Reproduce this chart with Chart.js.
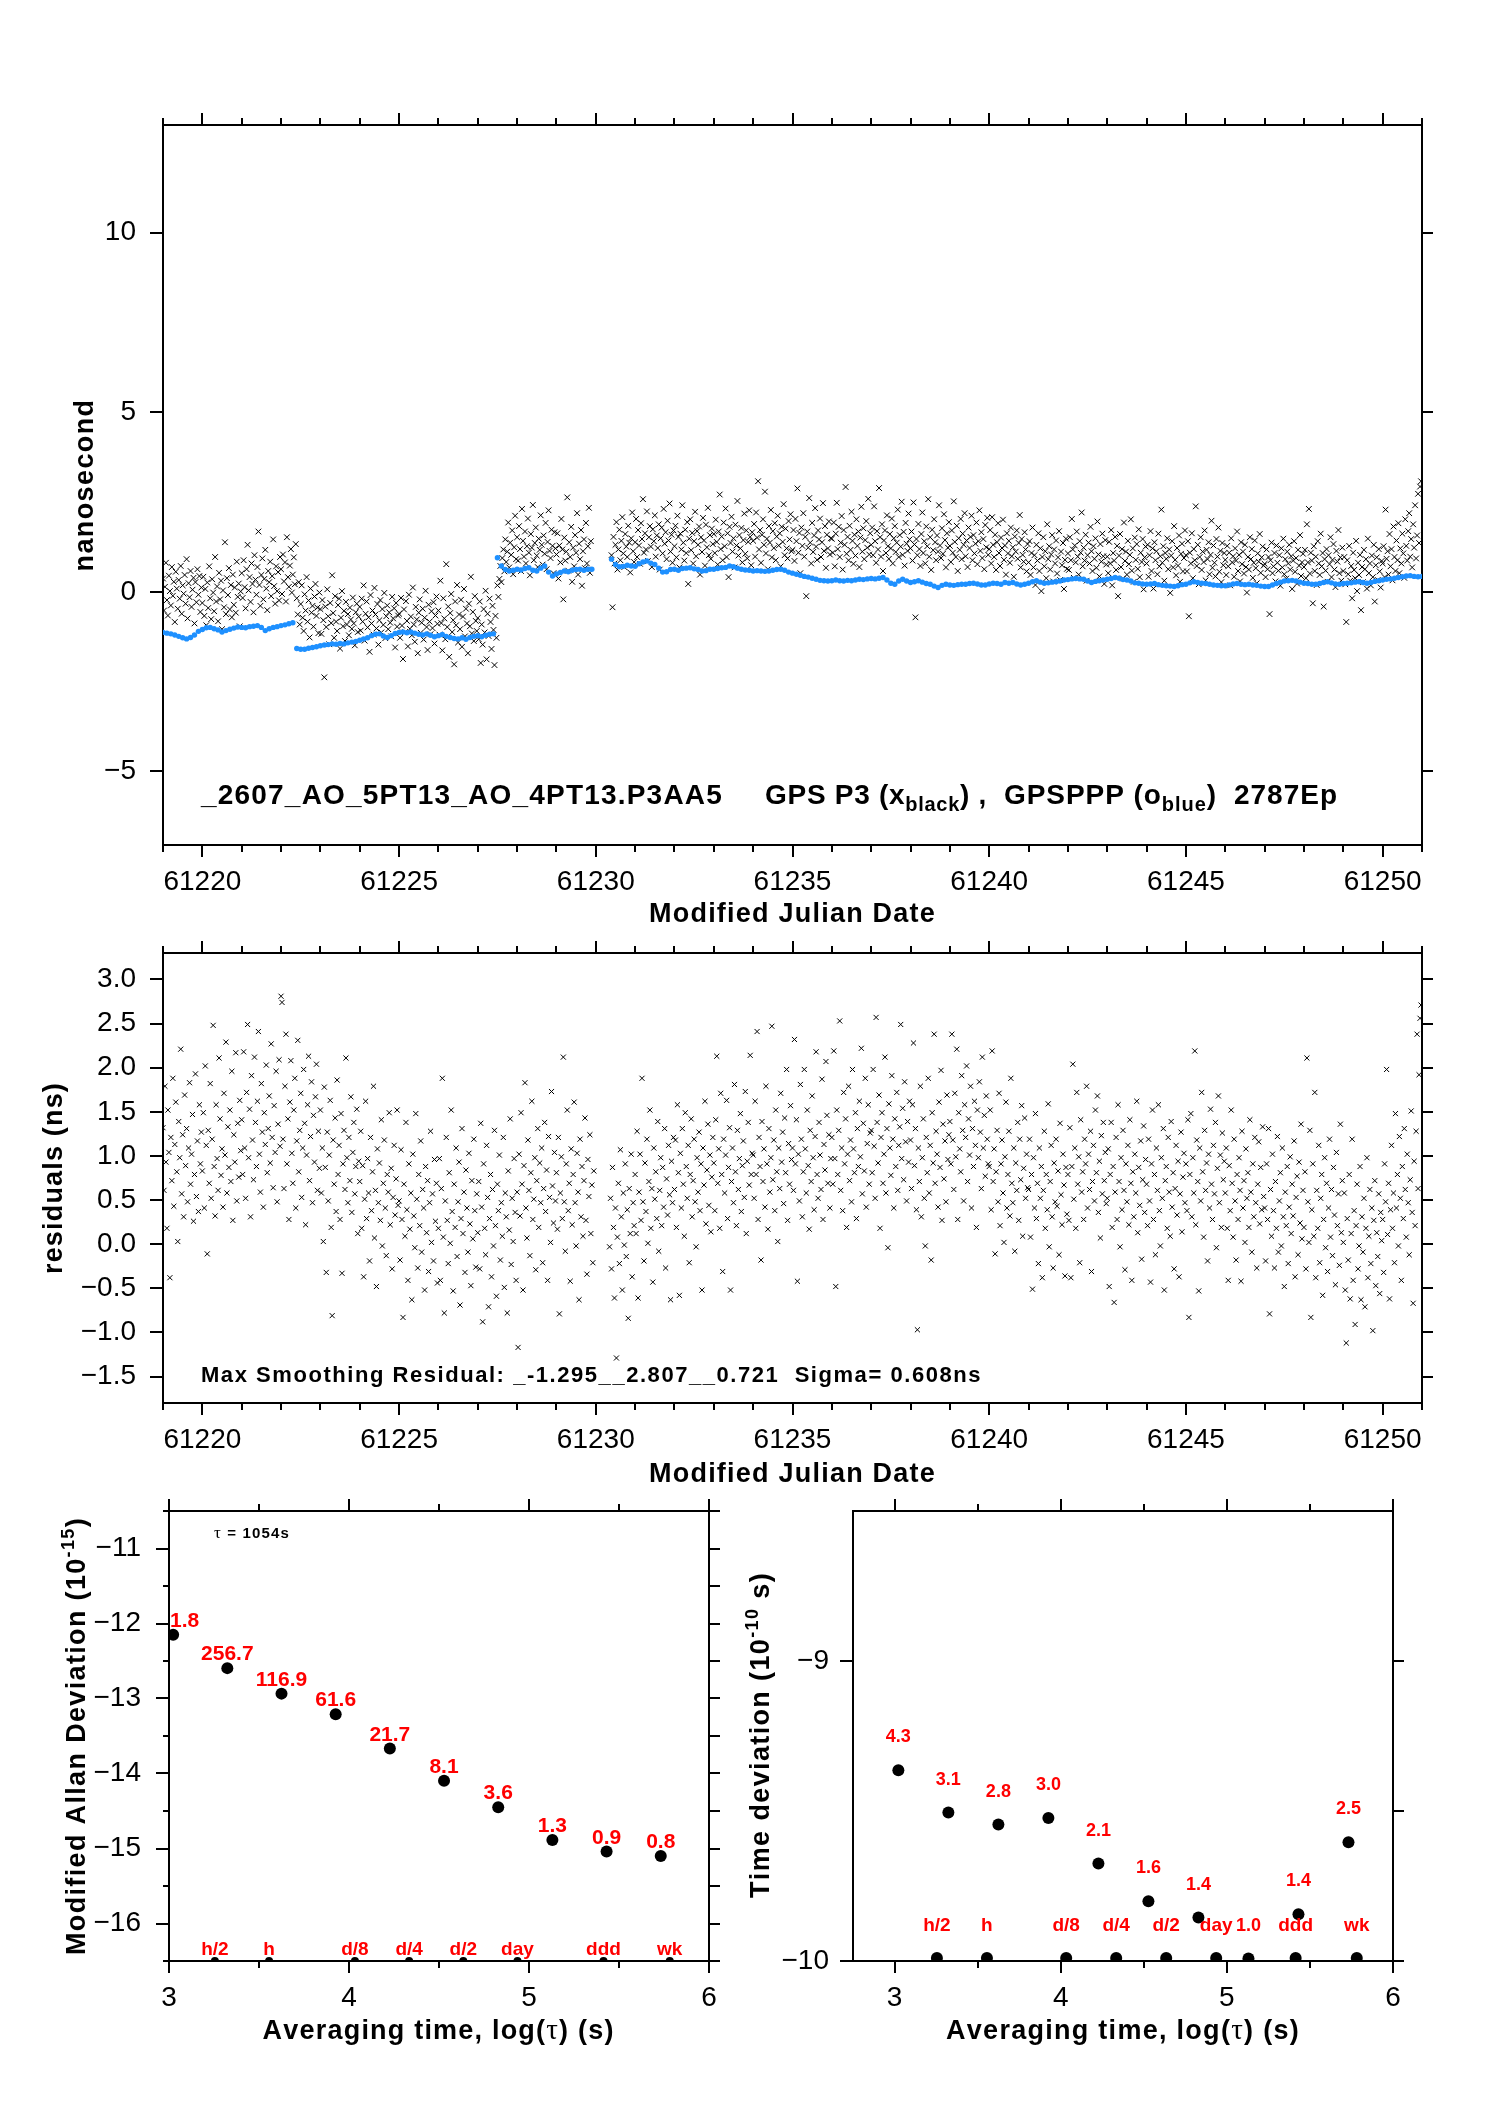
<!DOCTYPE html>
<html><head><meta charset="utf-8">
<script src="https://cdn.jsdelivr.net/npm/chart.js@4"></script>
<style>
html,body{margin:0;padding:0;background:#fff;}
body{width:1488px;height:2105px;position:relative;overflow:hidden;}
canvas{position:absolute;}
</style></head><body>
<canvas id="c1"></canvas><canvas id="c2"></canvas><canvas id="c3"></canvas><canvas id="c4"></canvas>
<script>
// ---------------- DATA ----------------
const DAY0 = 61219;               // MJD of the first row; each row = one day of samples
// GPS P3 clock differences (ns), one row per day (black x)
const GPS_P3 = [
[0.37,-0.52,0.14,0.81,-0.23,-0.66,0.45,0.02,-0.38,0.69,-0.11,0.28,-0.84,0.56,0.09,-0.47,0.33,-0.19,0.72,-0.61,0.18,-0.05,0.47,-0.33,0.91,-0.74,0.24,-0.15,0.58,-0.42,0.06,0.39,-0.88,0.27,-0.29,0.63,-0.08,0.44,-0.56,0.12],
[-0.31,0.42,-0.67,0.08,-0.93,0.26,-0.45,0.71,-0.18,-0.76,0.35,-0.02,-0.54,0.97,-0.27,0.15,-0.82,0.53,-0.21,0.31,-1.04,0.04,-0.43,1.38,-0.62,0.38,-0.09,0.66,-0.49,0.19,-0.71,0.48,-0.36,0.12,-0.58,0.84,-0.14,0.23,-0.96,0.01],
[0.52,-0.17,0.88,0.13,-0.46,0.63,1.31,0.04,0.41,-0.28,0.79,0.22,-0.57,1.02,0.34,-0.08,0.69,1.68,0.19,-0.39,0.47,0.93,-0.21,0.36,1.17,0.09,-0.51,0.58,0.27,0.84,-0.12,0.44,1.46,0.16,-0.33,0.71,0.02,0.55,-0.24,0.97],
[0.63,-0.06,1.04,0.29,0.82,-0.27,1.52,0.41,0.14,0.73,1.19,-0.02,0.48,0.96,0.21,1.33,-0.18,-0.63,0.27,-0.91,-0.34,0.18,-0.72,-1.09,-0.07,-0.52,0.41,-0.83,-0.24,-1.27,0.09,-0.58,-0.39,-0.97,-0.13,0.22,-0.67,-0.44,-1.15,-0.02],
[-0.48,-1.17,-0.23,-0.79,-2.38,-0.41,-0.98,0.07,-0.68,-1.46,-0.31,-0.87,0.46,-0.59,-1.28,-0.12,-0.83,-1.09,-0.37,-0.19,-1.58,-0.72,0.02,-0.96,-0.53,-1.37,-0.28,-0.91,-0.62,-1.21,-0.44,-0.77,-1.03,-0.16,-0.88,-1.49,-0.57,-0.33,-1.12,-0.69],
[-0.42,-1.08,-0.19,-0.83,0.18,-1.36,-0.61,-0.27,-0.99,-0.71,-1.67,-0.09,-0.88,-0.52,-1.19,0.11,-0.63,-1.02,-0.34,-1.47,-0.79,-0.23,-1.13,-0.48,-0.92,-0.03,-1.29,-0.68,-0.38,-1.04,-0.57,-0.86,-1.24,-0.14,-0.74,-0.46,-1.55,-0.31,-0.97,-0.66],
[-0.61,-1.28,-0.17,-0.94,-1.87,-0.49,-1.12,-0.26,-0.81,-1.52,-0.08,-1.03,-0.69,-1.21,0.12,-0.91,-1.39,-0.42,-0.77,-1.71,-0.58,-0.21,-1.14,-0.86,-0.47,-1.33,-0.72,0.03,-0.98,-1.62,-0.36,-0.83,-1.18,-0.54,-1.01,-0.29,-1.44,-0.66,-0.13,-0.89],
[-0.52,-1.19,0.31,-0.87,-1.63,-0.18,-0.74,-1.32,0.77,-0.98,-0.41,-1.81,-0.59,-0.06,-1.12,-0.79,-2.02,-0.27,-0.93,0.19,-1.41,-0.63,-1.04,-0.22,-1.53,-0.69,0.08,-1.24,-0.47,-0.88,-1.71,-0.33,-0.96,0.42,-1.16,-0.56,-1.37,-0.12,-0.81,-1.09],
[-0.73,-1.32,-0.27,-1.98,-0.91,-1.47,-0.48,-1.13,0.03,-1.88,-0.61,-1.23,-0.19,-0.84,-1.59,-0.39,-1.06,-2.04,-0.67,-1.28,0.18,-0.14,0.36,0.72,0.27,0.94,1.18,0.57,1.46,0.83,1.12,1.93,0.68,1.37,1.03,1.71,0.49,1.24,2.12,0.91],
[1.52,0.87,1.83,1.19,0.58,2.31,1.42,0.98,1.68,0.79,1.27,2.04,1.09,0.46,1.61,1.23,2.42,0.88,1.36,1.79,1.01,0.69,1.48,1.17,2.13,1.31,0.76,1.57,1.06,1.92,0.63,1.39,2.27,1.14,0.94,1.73,1.28,0.52,1.66,1.21],
[1.04,1.63,0.37,1.29,0.82,2.03,1.18,-0.21,1.51,0.87,1.12,2.63,0.59,1.38,0.97,1.81,0.28,1.23,0.71,1.58,1.09,2.19,0.48,1.34,0.91,1.72,0.17,1.13,1.46,0.66,1.92,0.79,1.27,2.34,0.53,1.41,null,null,null,null],
[null,null,null,null,null,null,null,null,null,null,null,null,null,null,null,null,1.02,-0.43,1.53,0.79,1.31,1.94,0.62,1.18,1.73,0.88,1.42,2.08,1.07,0.69,1.61,1.26,0.97,1.84,1.37,0.54,1.49,2.21,1.13,0.83],
[1.38,2.03,0.97,1.72,1.29,0.78,1.91,1.47,2.58,1.09,1.63,1.18,2.24,0.86,1.52,1.83,1.26,0.69,1.74,1.41,2.13,0.98,1.57,1.22,1.88,0.62,1.49,1.79,1.07,2.31,1.34,1.66,0.91,1.98,1.43,2.46,1.12,1.59,0.81,1.71],
[1.27,1.84,0.96,2.12,1.53,0.68,1.62,1.18,2.41,1.37,0.87,1.73,1.08,1.94,0.22,1.48,2.02,1.16,1.64,0.79,1.41,2.23,0.99,1.69,1.31,1.82,0.48,1.52,1.11,2.06,1.43,0.73,1.87,1.24,2.34,1.02,1.58,0.92,1.76,1.33],
[1.61,1.08,2.01,1.39,0.76,1.68,2.71,1.19,1.54,0.88,1.93,1.27,2.32,0.97,1.63,0.41,1.81,1.36,2.09,1.12,1.49,0.68,1.87,1.29,2.53,1.01,1.58,1.21,1.78,0.82,1.44,2.18,1.06,1.71,0.93,1.39,2.27,1.53,0.74,1.66],
[1.42,1.89,0.98,2.21,1.51,3.08,1.18,1.72,0.81,1.59,2.02,1.31,2.79,1.07,1.48,0.63,1.83,1.37,2.28,0.96,1.69,1.22,1.91,0.88,1.54,2.12,1.29,1.63,0.71,1.81,1.39,2.44,1.02,1.76,1.21,0.93,1.97,1.46,2.16,1.13],
[1.17,1.72,0.86,2.03,1.41,2.88,1.09,1.64,0.52,1.79,1.28,2.19,0.98,1.53,-0.12,1.68,1.23,2.61,1.37,0.79,1.92,1.11,1.57,2.33,1.26,0.89,1.71,1.46,2.04,0.97,1.38,2.47,1.14,1.83,0.67,1.59,1.21,1.96,1.04,1.49],
[1.48,1.09,1.93,0.71,1.62,2.48,1.19,1.81,0.97,1.37,2.11,0.62,1.72,1.31,2.92,1.06,1.53,0.88,1.84,1.17,2.23,1.42,0.78,1.59,1.01,2.02,1.28,1.68,0.69,1.51,2.37,1.12,1.77,0.91,1.44,1.97,1.23,2.59,1.04,1.63],
[1.31,1.79,1.02,2.38,1.41,0.81,1.69,1.18,2.89,1.52,0.98,1.88,0.58,1.43,1.71,1.08,2.13,1.27,0.92,1.61,1.21,2.04,0.79,1.49,1.83,1.11,1.37,2.29,0.97,1.58,1.26,2.51,1.03,1.67,0.73,1.92,1.34,1.14,2.18,1.46],
[1.21,1.68,0.87,2.49,1.32,-0.71,1.47,1.02,1.89,1.19,0.72,1.61,2.21,1.08,1.41,0.79,1.82,1.27,2.58,0.98,1.52,0.61,1.73,1.16,2.02,1.38,0.88,1.57,1.12,2.41,1.29,0.94,1.77,1.06,2.16,1.44,0.68,1.63,1.23,1.94],
[1.28,0.83,1.71,1.09,2.52,1.39,0.97,1.84,0.58,1.49,1.17,2.03,0.91,1.62,1.31,2.19,0.99,1.43,0.69,1.79,1.22,1.53,2.12,0.88,1.58,1.07,1.34,1.93,0.77,1.41,2.27,1.14,1.66,0.94,1.47,0.63,1.86,1.24,2.06,1.03],
[1.19,1.72,0.79,2.08,1.31,0.97,1.59,0.61,1.38,1.91,1.08,0.72,1.51,1.22,2.01,0.89,1.29,0.48,1.63,1.07,1.42,0.81,1.79,0.99,1.24,0.42,1.54,1.12,1.71,0.92,1.36,2.14,0.68,1.47,1.03,0.84,1.66,1.18,0.57,1.33],
[0.82,1.41,0.47,1.08,1.79,0.68,1.02,0.19,1.31,0.87,1.63,0.58,1.21,0.02,0.97,1.52,0.71,1.13,0.38,1.88,0.91,1.27,0.62,1.04,1.58,0.29,1.18,0.79,1.43,0.51,0.96,1.69,0.33,1.12,0.74,1.36,0.08,0.89,1.48,0.64],
[1.07,0.61,1.52,0.88,2.03,1.18,0.39,1.29,0.82,1.68,0.98,0.48,1.41,1.09,2.21,0.71,1.23,0.87,1.59,0.31,1.02,1.37,0.79,1.81,1.13,0.58,1.27,0.92,1.49,0.67,1.96,1.04,0.43,1.33,0.84,1.62,0.99,0.22,1.44,0.76],
[0.98,0.52,1.39,0.79,1.72,0.18,1.08,0.87,1.53,0.61,1.28,-0.12,1.01,1.61,0.69,1.19,0.37,1.93,0.86,1.12,0.48,1.42,0.77,1.03,2.02,0.59,1.21,0.28,1.51,0.89,1.33,0.64,1.74,0.41,1.09,0.83,1.47,0.07,0.96,1.26],
[0.79,1.31,0.42,1.02,1.69,0.58,1.21,0.09,1.38,0.88,1.13,0.49,1.62,0.71,0.99,2.29,0.81,1.27,0.31,1.08,0.92,1.49,0.63,1.18,-0.03,1.01,1.41,0.68,1.83,0.89,0.46,1.22,0.73,1.57,0.28,1.06,1.34,0.57,0.94,1.71],
[1.02,0.57,1.41,-0.68,1.09,0.79,1.63,0.38,1.19,0.88,2.38,0.72,1.31,0.21,0.97,1.52,0.61,1.12,0.83,1.71,0.32,1.17,0.91,1.38,0.49,1.03,1.98,0.67,1.29,0.81,0.43,1.47,0.98,1.79,0.56,1.14,0.27,1.36,0.74,1.08],
[0.89,0.47,1.28,0.71,1.09,0.18,1.49,0.82,0.99,0.42,1.21,0.87,1.68,0.58,1.03,0.29,1.38,0.77,1.12,0.51,1.31,0.69,-0.02,0.97,0.62,1.52,0.91,1.19,0.39,0.81,1.43,0.66,0.24,1.07,0.84,1.61,0.53,0.96,1.26,0.73],
[0.78,0.41,1.18,0.63,0.97,-0.62,0.88,1.37,0.52,0.71,1.08,0.29,1.29,0.81,0.59,1.02,0.17,1.21,0.68,1.48,0.49,0.91,0.37,1.12,0.79,1.31,0.62,0.99,0.08,0.87,1.41,0.56,0.94,0.23,1.17,0.73,1.58,0.44,0.82,1.06],
[0.69,1.17,0.38,1.88,0.82,2.31,0.51,1.09,0.87,-0.32,1.27,0.58,0.98,0.19,1.41,0.79,0.47,1.62,0.71,1.08,-0.41,0.91,0.59,1.19,0.28,1.02,0.77,1.52,0.41,0.89,1.33,0.62,0.13,1.14,0.84,1.72,0.52,0.96,0.31,1.23],
[0.58,0.97,0.21,-0.84,0.88,0.49,1.28,0.31,0.72,-0.18,1.09,0.61,0.38,1.42,0.02,0.81,0.47,1.03,-0.51,0.69,0.27,1.17,0.63,0.91,0.09,1.48,0.52,0.79,0.18,1.01,0.41,1.31,-0.27,0.74,0.96,0.33,1.19,0.57,0.12,0.86],
[0.79,1.27,0.41,2.29,0.92,1.13,0.48,1.61,0.71,1.19,0.32,1.82,0.97,0.58,1.43,0.88,1.91,0.52,1.21,0.79,1.62,1.07,0.39,2.02,1.28,0.87,1.69,2.19,0.98,1.47,0.68,1.88,1.23,2.41,0.93,1.57,2.73,1.36,2.93,3.08]
];
// GPS PPP clock differences (ns), blue, sampled every PPP_STEP days from PPP_T0
const PPP_T0 = 61219, PPP_STEP = 0.1;
const GPS_PPP = [
-1.13,-1.15,-1.17,-1.20,-1.24,-1.28,-1.31,-1.27,-1.20,-1.10,-1.05,-1.00,-0.99,-1.03,-1.06,-1.12,-1.08,-1.04,-1.01,-0.98,
-0.99,-1.00,-0.97,-0.96,-0.94,-0.99,-1.08,-1.03,-0.99,-0.97,-0.94,-0.92,-0.89,-0.86,
-1.58,-1.60,-1.60,-1.57,-1.55,-1.53,-1.50,-1.48,-1.47,-1.45,-1.46,-1.44,-1.45,-1.42,-1.40,-1.38,
-1.35,-1.31,-1.28,-1.22,-1.18,-1.17,-1.23,-1.27,-1.22,-1.16,-1.13,-1.12,-1.14,-1.12,-1.15,-1.18,-1.20,-1.17,-1.21,-1.25,
-1.22,-1.19,-1.24,-1.27,-1.30,-1.31,-1.28,-1.32,-1.27,-1.24,-1.22,-1.25,-1.21,-1.18,-1.17,
0.95,0.72,0.62,0.58,0.60,0.63,0.61,0.65,0.67,0.60,0.58,0.66,0.72,0.55,0.44,0.50,0.54,0.58,0.56,0.60,0.62,0.63,0.60,0.63,0.63,
null,null,null,null,
0.91,0.76,0.70,0.71,0.74,0.72,
0.71,0.78,0.83,0.86,0.80,0.76,0.66,0.55,0.56,0.62,
0.63,0.60,0.65,0.66,0.67,0.64,0.62,0.58,0.59,0.63,
0.63,0.65,0.67,0.68,0.72,0.70,0.66,0.63,0.61,0.60,
0.58,0.59,0.58,0.57,0.58,0.60,0.62,0.63,0.60,0.55,
0.52,0.49,0.46,0.43,0.41,0.38,0.35,0.32,0.31,0.30,
0.31,0.33,0.31,0.30,0.32,0.31,0.33,0.35,0.34,0.36,
0.37,0.36,0.38,0.40,0.33,0.24,0.21,0.30,0.35,0.30,
0.26,0.28,0.31,0.27,0.23,0.21,0.16,0.12,0.18,0.21,
0.19,0.18,0.20,0.21,0.21,0.23,0.24,0.22,0.19,0.19,
0.22,0.24,0.23,0.21,0.26,0.24,0.26,0.22,0.19,0.21,
0.24,0.28,0.31,0.27,0.24,0.25,0.27,0.28,0.30,0.33,
0.34,0.36,0.37,0.36,0.35,0.30,0.26,0.29,0.31,0.33,
0.35,0.37,0.40,0.38,0.34,0.33,0.30,0.25,0.24,0.22,
0.21,0.22,0.23,0.20,0.18,0.17,0.16,0.15,0.17,0.20,
0.21,0.25,0.28,0.26,0.24,0.23,0.21,0.19,0.18,0.17,
0.17,0.19,0.22,0.23,0.21,0.20,0.21,0.19,0.18,0.16,
0.15,0.15,0.19,0.23,0.27,0.30,0.31,0.32,0.30,0.27,
0.24,0.23,0.21,0.21,0.23,0.26,0.28,0.25,0.22,0.21,
0.23,0.24,0.25,0.27,0.28,0.26,0.24,0.26,0.29,0.31,
0.33,0.35,0.36,0.38,0.40,0.42,0.44,0.45,0.43,0.42,
0.43
];
// smoothing residuals (ns), one row per day
const RESID = [
[1.32,0.61,1.79,0.93,0.18,1.52,1.04,-0.38,1.21,0.72,1.88,0.43,1.13,1.61,0.82,0.03,1.39,0.98,2.21,0.57,1.24,0.31,1.69,0.89,1.31,0.48,1.09,1.83,0.68,1.02,1.47,0.26,0.79,1.93,0.54,1.17,0.37,1.58,0.91,1.27],
[0.83,1.49,0.41,2.02,1.12,-0.11,1.29,0.69,1.82,0.52,1.19,2.48,0.88,0.32,1.58,0.97,0.61,2.11,1.42,0.78,1.08,0.42,1.71,1.01,2.29,0.58,1.33,0.87,1.52,0.71,1.96,0.27,1.24,0.93,2.17,0.49,1.37,0.76,1.63,1.06],
[1.41,0.79,2.18,1.09,0.52,1.72,2.49,0.98,1.53,0.31,1.91,1.18,0.73,2.12,1.38,0.88,1.62,2.41,1.02,0.59,1.82,1.27,0.42,1.49,1.13,2.03,0.81,1.31,1.68,0.92,2.27,1.21,0.64,1.57,1.04,1.96,0.48,1.36,2.09,1.11],
[2.81,2.74,1.19,0.63,1.79,2.38,0.91,1.42,0.28,1.61,2.08,1.03,0.69,1.52,1.88,0.41,1.17,2.31,0.82,1.29,1.71,0.53,1.09,1.98,1.37,0.22,1.01,1.58,2.13,0.72,1.22,1.84,0.47,1.46,0.93,1.67,2.04,0.61,1.28,0.86],
[1.52,0.58,1.09,0.03,1.78,0.87,-0.32,1.27,0.49,1.01,1.63,0.19,-0.81,1.18,0.68,1.43,0.37,1.86,0.79,1.12,0.28,1.48,-0.33,0.91,1.29,0.62,2.11,0.98,0.47,1.21,0.72,1.67,0.36,1.04,1.38,0.57,0.88,1.53,0.12,0.94],
[0.71,1.28,0.18,0.89,-0.37,0.51,1.62,0.29,0.97,0.58,-0.19,1.21,0.38,0.82,1.79,0.07,0.61,-0.48,1.08,0.47,0.92,0.27,1.41,-0.02,0.69,1.18,0.41,-0.13,0.79,0.59,1.49,0.22,0.86,-0.28,0.53,1.12,0.33,0.74,1.52,0.44],
[0.49,-0.18,1.07,0.28,-0.83,0.68,0.09,1.38,0.39,-0.41,0.91,0.17,0.58,-0.63,1.02,0.32,-0.04,1.48,0.51,-0.27,0.79,0.21,1.17,-0.09,0.62,0.41,-0.52,0.88,0.13,0.72,-0.31,0.47,1.28,0.02,0.57,-0.19,0.96,0.26,0.69,-0.44],
[0.18,0.97,-0.41,0.63,1.88,0.08,-0.78,0.49,1.21,0.27,-0.22,0.81,0.01,1.52,0.37,-0.53,0.68,0.19,1.09,-0.14,0.48,0.93,-0.69,0.29,1.31,0.12,0.59,-0.32,0.84,0.41,-0.09,1.03,0.23,-0.47,0.72,0.06,1.19,0.38,-0.26,0.57],
[0.13,0.71,-0.28,1.37,0.42,-0.88,0.91,0.18,-0.12,1.12,0.53,-0.71,0.29,0.79,-0.37,0.62,-0.02,1.29,0.21,-0.59,0.68,0.38,1.01,-0.18,0.47,0.09,1.21,-0.49,0.58,0.31,-0.78,0.83,0.16,1.42,-0.23,0.52,0.03,0.97,0.36,-0.41],
[0.59,-1.17,1.02,0.32,1.49,0.68,-0.52,0.89,1.83,0.41,0.07,1.18,0.61,-0.13,0.81,1.62,0.28,0.51,0.98,-0.29,0.72,1.31,0.19,0.92,0.47,1.09,-0.21,0.63,1.38,0.37,0.84,-0.41,1.22,0.53,0.02,1.73,0.66,0.24,1.04,0.49],
[0.81,0.17,1.21,-0.79,0.58,0.99,0.29,2.12,0.48,-0.08,0.91,1.52,0.38,0.69,-0.42,1.08,0.22,0.79,1.61,0.47,-0.02,1.03,0.59,-0.63,1.19,0.31,0.88,0.09,0.72,1.43,0.27,-0.34,0.96,0.54,1.24,0.12,0.67,-0.21,0.83,null],
[null,null,null,null,null,null,null,null,null,null,null,null,null,null,-0.03,0.52,-0.28,0.87,0.19,-0.61,0.41,-1.29,0.08,0.69,-0.22,1.07,0.31,-0.52,0.58,-0.01,0.91,-0.14,0.39,-0.84,0.63,0.12,1.02,-0.37,0.47,0.21],
[0.79,0.12,1.28,-0.61,0.59,1.02,0.27,1.88,0.48,-0.19,0.92,0.37,1.19,0.01,0.71,1.52,0.18,0.63,-0.43,1.09,0.51,0.82,0.29,1.39,-0.08,0.61,0.98,0.21,0.87,0.42,1.31,-0.27,0.74,0.33,1.12,0.56,-0.63,0.94,0.47,1.21],
[0.62,1.18,0.19,1.58,0.81,-0.58,1.03,0.41,1.31,0.68,0.09,1.49,0.88,0.52,1.12,-0.21,0.79,1.42,0.31,0.72,1.19,0.48,-0.03,0.98,0.59,1.27,0.38,0.91,-0.52,1.09,0.67,1.62,0.23,0.84,1.36,0.44,1.01,0.14,0.76,1.21],
[0.92,0.38,1.41,2.13,0.69,1.08,0.18,1.71,0.79,-0.31,1.19,0.58,1.01,1.63,0.29,0.87,1.32,-0.52,0.71,1.09,0.47,1.81,0.82,0.21,1.29,0.62,0.97,1.48,0.37,0.89,1.17,0.53,1.73,0.12,0.94,1.38,0.67,2.14,0.79,1.03],
[1.01,0.52,1.62,0.79,2.41,0.28,1.21,0.88,-0.18,1.39,0.71,1.08,0.42,1.79,0.91,0.17,1.31,0.59,0.98,2.47,0.73,1.18,0.38,1.52,0.82,0.03,1.09,0.63,1.71,0.93,1.27,0.46,1.43,0.81,1.98,0.27,1.14,0.68,1.57,0.96],
[1.09,0.61,2.32,0.91,1.41,-0.42,1.02,0.49,1.81,1.19,0.31,0.82,1.98,1.08,0.58,1.52,0.89,0.17,1.29,0.71,1.68,0.98,0.39,1.22,2.18,0.79,0.52,1.38,1.01,0.62,1.87,0.28,1.13,0.84,2.07,1.46,0.69,1.24,0.41,0.97],
[1.21,0.68,2.19,0.97,-0.48,1.52,0.79,1.29,2.53,0.61,1.09,0.38,1.72,0.91,1.42,0.19,1.02,1.79,0.72,1.18,0.48,1.98,1.08,0.81,1.49,0.29,1.31,0.88,1.62,0.99,2.22,0.57,1.37,0.83,1.88,0.42,1.14,1.58,0.68,1.26],
[1.29,0.81,1.98,1.11,0.52,2.57,1.38,0.92,1.69,0.18,1.21,1.49,0.69,1.02,2.12,0.58,1.31,-0.04,1.59,1.09,0.78,1.91,1.19,0.41,1.42,0.88,1.72,0.61,1.12,1.33,2.49,0.97,1.54,0.73,1.84,1.16,0.49,1.39,0.93,1.62],
[1.18,0.63,1.58,2.28,0.89,1.31,0.39,-0.97,1.09,0.71,1.79,0.31,0.98,1.42,0.52,-0.02,1.21,0.81,1.88,0.58,1.12,-0.18,1.49,0.92,2.38,0.69,1.28,1.02,0.42,1.61,0.87,1.97,0.27,1.36,0.74,1.17,0.48,1.69,0.96,1.24],
[1.39,0.91,2.38,1.18,0.62,1.71,0.99,2.21,0.28,1.49,1.08,0.82,1.91,1.29,0.49,1.58,1.21,2.02,0.71,1.42,1.01,1.79,0.41,1.31,0.88,1.62,1.12,0.19,1.52,0.98,1.84,1.27,0.63,2.12,1.09,1.46,0.77,1.68,1.19,0.91],
[0.88,1.52,0.39,2.19,0.71,1.08,-0.11,0.82,1.29,0.48,1.71,0.21,0.91,1.18,0.58,0.02,0.99,1.61,0.41,0.79,1.28,0.32,1.88,0.69,0.47,1.09,-0.08,0.92,0.61,1.38,0.27,1.19,0.73,1.57,0.09,0.86,1.43,0.52,1.02,0.64],
[0.62,1.19,0.08,0.79,-0.51,0.98,0.41,1.48,0.29,0.69,-0.22,1.09,0.52,0.88,-0.38,0.61,1.28,0.18,0.79,0.39,1.59,-0.03,0.71,1.12,0.31,-0.27,0.92,0.48,1.19,0.43,0.83,-0.12,1.37,0.56,0.22,1.02,0.67,-0.36,0.87,0.34],
[0.79,0.27,1.32,-0.38,0.88,2.04,0.51,1.09,0.18,1.72,0.68,0.99,-0.21,1.41,0.59,0.82,0.28,1.19,0.91,1.79,0.41,1.02,0.62,1.28,-0.31,0.71,1.12,0.49,1.52,0.81,1.68,0.36,0.94,0.07,1.23,0.57,1.38,0.72,1.04,0.46],
[0.52,1.08,-0.48,0.79,1.38,0.19,0.88,-0.66,0.59,1.21,0.28,1.58,0.71,-0.03,0.98,0.39,1.29,0.61,-0.29,0.91,0.48,1.12,0.22,1.41,0.69,-0.41,0.82,0.31,1.02,0.58,1.62,0.13,0.87,0.44,1.17,-0.17,0.73,1.34,0.36,0.96],
[0.68,0.21,1.19,0.49,-0.43,0.91,1.52,0.28,0.79,-0.12,1.09,0.61,1.58,0.38,-0.02,0.98,0.52,1.31,-0.52,0.72,0.88,0.18,1.21,0.59,0.09,1.39,0.42,0.81,-0.28,0.63,1.12,0.33,0.94,-0.37,0.57,1.27,0.14,0.76,1.03,0.47],
[0.91,0.38,1.41,-0.83,0.79,1.48,0.31,0.98,0.58,2.19,0.22,1.18,0.71,-0.53,1.09,0.49,1.72,0.82,0.08,1.29,0.61,0.92,-0.19,1.02,0.41,1.53,0.68,0.28,1.12,0.57,1.38,-0.04,0.86,1.68,0.47,1.01,0.19,1.26,0.73,0.94],
[0.58,1.09,0.18,-0.41,0.89,0.38,1.52,0.69,0.08,1.19,0.49,-0.18,0.79,0.28,0.98,0.61,-0.42,1.28,0.41,0.72,0.02,1.08,0.52,0.81,0.19,1.41,0.59,-0.09,0.91,0.31,1.21,0.47,-0.27,0.68,1.16,0.23,0.87,0.39,1.33,0.54],
[0.41,-0.19,0.91,0.28,1.31,-0.79,0.62,0.09,1.02,0.38,-0.27,0.71,0.18,1.22,-0.09,0.49,0.81,-0.02,1.09,0.31,-0.48,0.59,0.21,0.88,-0.22,0.42,0.99,0.12,0.68,0.32,1.17,-0.37,0.53,0.77,-0.12,0.93,0.24,1.36,0.06,0.61],
[0.19,0.82,-0.28,2.11,0.48,0.02,1.29,-0.83,0.39,0.91,0.09,1.72,-0.38,0.61,0.18,1.12,-0.21,0.52,0.79,-0.58,0.28,0.98,-0.04,0.69,-0.31,0.41,1.19,0.08,0.62,-0.13,0.87,0.33,-0.46,1.04,0.21,0.57,-0.24,1.36,0.13,0.72],
[0.02,0.58,-0.52,-1.12,0.29,-0.18,0.79,-0.62,0.12,1.19,-0.41,0.38,-0.91,0.21,0.68,-0.28,-0.02,0.88,-0.63,0.31,-0.09,0.52,-0.71,0.18,0.98,-0.38,0.09,0.62,-0.22,0.41,-0.98,0.27,0.72,-0.47,0.13,-0.14,0.57,-0.56,0.36,0.04],
[0.28,-0.32,0.91,0.48,1.98,0.11,0.69,-0.62,0.39,1.12,0.18,0.58,-0.21,1.48,0.41,0.79,-0.02,1.22,0.52,-0.41,0.88,0.29,1.31,0.62,0.08,1.02,0.47,-0.12,0.73,1.51,0.36,-0.67,0.94,0.21,1.28,2.38,0.63,1.92,2.56,2.71]
];
const MJD_TICKS = [61220, 61225, 61230, 61235, 61240, 61245, 61250];
const MJD_MINOR = [61219,61221,61222,61223,61224,61226,61227,61228,61229,61231,61232,61233,61234,61236,61237,61238,61239,61241,61242,61243,61244,61246,61247,61248,61249,61251];
const NS_TICKS = [10, 5, 0, -5];
const RES_TICKS = [3.0, 2.5, 2.0, 1.5, 1.0, 0.5, 0.0, -0.5, -1.0, -1.5];
// stability
const LOG_TAU = [3.023, 3.324, 3.625, 3.926, 4.227, 4.528, 4.829, 5.130, 5.431, 5.732];
const MDEV = [-12.15, -12.595, -12.935, -13.21, -13.667, -14.096, -14.45, -14.886, -15.04, -15.10];
const MDEV_LABELS = ['1.8','256.7','116.9','61.6','21.7','8.1','3.6','1.3','0.9','0.8'];
const TDEV = [-9.364, -9.505, -9.545, -9.523, -9.675, -9.801, -9.855, -9.992, -9.844, -9.604];
const TDEV_LABELS = ['4.3','3.1','2.8','3.0','2.1','1.6','1.4','1.0','1.4','2.5'];
const MARK_NAMES = ['h/2','h','d/8','d/4','d/2','day','ddd','wk'];
const MARK_LOGTAU = [3.255, 3.556, 4.033, 4.334, 4.635, 4.936, 5.414, 5.782];
const MARK_MDEV_Y = -16.5, MARK_TDEV_Y = -9.99;
const TAU_TICKS = [3, 4, 5, 6], TAU_MINOR = [3.5, 4.5, 5.5];
const MDEV_TICKS = [-11, -12, -13, -14, -15, -16];
const MDEV_MINOR = [-10.5, -11.5, -12.5, -13.5, -14.5, -15.5, -16.5];
const TDEV_TICKS = [-9, -10], TDEV_MINOR = [-9.5];

// ---------------- HELPERS ----------------
const FONT = '"Liberation Sans", Arial, Helvetica, sans-serif';
const SERIF = '"Liberation Serif", "DejaVu Serif", serif';
const RED = '#ff0000', BLUE = '#1e90ff';
const minus = s => String(s).replace('-', '\u2212');

function fontOf(s){ return (s.bold === false ? '' : 'bold ') + s.size + 'px ' + (s.serif ? SERIF : FONT); }
function drawRich(ctx, segs, x, y, opt){
  opt = opt || {};
  ctx.save();
  ctx.translate(x, y);
  if (opt.rot) ctx.rotate(opt.rot);
  let w0 = 0, n = 0;
  for (const s of segs){ ctx.font = fontOf(s); for (const ch of s.t){ w0 += ctx.measureText(ch).width; n++; } }
  const ls = opt.target ? (opt.target - w0) / n : 0;
  const w = w0 + ls * n;
  let cx = opt.align === 'center' ? -w / 2 : 0;
  const by = opt.base || 0;
  ctx.textAlign = 'left'; ctx.textBaseline = 'alphabetic';
  for (const s of segs){
    ctx.font = fontOf(s); ctx.fillStyle = s.color || '#000';
    for (const ch of s.t){ ctx.fillText(ch, cx, by + (s.dy || 0)); cx += ctx.measureText(ch).width + ls; }
  }
  ctx.restore();
}
function makeFrame(f){
  return { id: 'frame', beforeDatasetsDraw(chart){
    const ctx = chart.ctx, a = chart.chartArea, X = chart.scales.x, Y = chart.scales.y;
    ctx.save(); ctx.strokeStyle = '#000'; ctx.lineWidth = 2;
    ctx.strokeRect(a.left, a.top, a.right - a.left, a.bottom - a.top);
    ctx.beginPath();
    const t = (x0,y0,x1,y1) => { ctx.moveTo(x0,y0); ctx.lineTo(x1,y1); };
    const xt = (vals, len) => vals.forEach(v => { const p = Math.round(X.getPixelForValue(v)); t(p, a.bottom, p, a.bottom + len); t(p, a.top, p, a.top - len); });
    xt(f.xMajor, 12); xt(f.xMinor, 7);
    (f.yLeft || []).forEach(v => { const p = Math.round(Y.getPixelForValue(v)); t(a.left, p, a.left - 13, p); });
    (f.yLeftMinor || []).forEach(v => { const p = Math.round(Y.getPixelForValue(v)); t(a.left, p, a.left - 6, p); });
    (f.yRight || []).forEach(v => { const p = Math.round(Y.getPixelForValue(v)); t(a.right, p, a.right + 11, p); });
    ctx.stroke(); ctx.restore();
  }};
}
function textPlugin(id, fn){ return { id, afterDatasetsDraw(chart){ const ctx = chart.ctx; ctx.save(); fn(chart, ctx); ctx.restore(); } }; }

function make(id, box, area, xs, ys, datasets, plugins){
  const cv = document.getElementById(id);
  cv.width = box.w; cv.height = box.h;
  cv.style.left = box.x + 'px'; cv.style.top = box.y + 'px';
  cv.style.width = box.w + 'px'; cv.style.height = box.h + 'px';
  const tickFont = { family: FONT, size: 28 };
  return new Chart(cv, {
    type: 'scatter',
    data: { datasets },
    options: {
      responsive: false, animation: false, devicePixelRatio: 1, events: [],
      layout: { autoPadding: false, padding: { left: 0, bottom: 0, top: area.T - box.y, right: box.x + box.w - area.R } },
      plugins: { legend: { display: false }, tooltip: { enabled: false } },
      scales: {
        x: { type: 'linear', min: xs.min, max: xs.max,
             grid: { display: false, drawTicks: false }, border: { display: false },
             afterBuildTicks: s => { s.ticks = xs.ticks.map(v => ({ value: v })); },
             afterFit: s => { s.height = box.y + box.h - area.B; s.paddingLeft = 0; s.paddingRight = 0; },
             ticks: { autoSkip: false, maxRotation: 0, minRotation: 0, padding: 20, font: tickFont, color: '#000',
                      callback: v => minus(v) } },
        y: { type: 'linear', min: ys.min, max: ys.max,
             grid: { display: false, drawTicks: false }, border: { display: false },
             afterBuildTicks: s => { s.ticks = ys.ticks.map(v => ({ value: v })); },
             afterFit: s => { s.width = area.L - box.x; s.paddingTop = 0; s.paddingBottom = 0; },
             ticks: { autoSkip: false, padding: ys.pad, font: tickFont, color: '#000',
                      callback: v => minus(ys.fmt ? ys.fmt(v) : v) } }
      }
    },
    plugins
  });
}
const rows2pts = rows => { const out = []; rows.forEach((r, d) => r.forEach((v, j) => { if (v !== null) out.push({ x: DAY0 + d + j / r.length, y: v }); })); return out; };

// ---------------- CHART 1: time series ----------------
const box1 = { x: 0, y: 0, w: 1488, h: 935 }, area1 = { L: 163, T: 125, R: 1422, B: 845 };
const pppPts = []; GPS_PPP.forEach((v, i) => { if (v !== null) pppPts.push({ x: PPP_T0 + i * PPP_STEP, y: v }); });
make('c1', box1, area1,
  { min: 61219, max: 61251, ticks: MJD_TICKS },
  { min: -7.05, max: 13, ticks: NS_TICKS, pad: 27 },
  [
    { label: 'GPSPPP', data: pppPts, order: 0, pointStyle: 'circle', pointRadius: 2.7, pointBackgroundColor: BLUE, pointBorderWidth: 0, borderColor: BLUE },
    { label: 'GPS P3', data: rows2pts(GPS_P3), order: 1, pointStyle: 'crossRot', pointRadius: 4.0, pointBorderColor: '#000', pointBorderWidth: 1, borderColor: '#000' }
  ],
  [ makeFrame({ xMajor: MJD_TICKS, xMinor: MJD_MINOR, yLeft: NS_TICKS, yRight: NS_TICKS }),
    textPlugin('t1', (c, ctx) => {
      const ox = box1.x, oy = box1.y;
      drawRich(ctx, [{ t: 'nanosecond', size: 27 }], 83 - ox, 485 - oy, { rot: -Math.PI / 2, align: 'center', target: 173, base: 10 });
      drawRich(ctx, [{ t: 'Modified Julian Date', size: 27 }], 792.5 - ox, 922 - oy, { align: 'center', target: 287 });
      drawRich(ctx, [{ t: '_2607_AO_5PT13_AO_4PT13.P3AA5', size: 28 }], 201 - ox, 804 - oy, { target: 522 });
      drawRich(ctx, [{ t: 'GPS P3 (x', size: 28 }, { t: 'black', size: 20, dy: 7 }, { t: ') ,', size: 28 }], 765 - ox, 804 - oy, { target: 222 });
      drawRich(ctx, [{ t: 'GPSPPP (o', size: 28 }, { t: 'blue', size: 20, dy: 7 }, { t: ')', size: 28 }], 1004 - ox, 804 - oy, { target: 213 });
      drawRich(ctx, [{ t: '2787Ep', size: 28 }], 1234 - ox, 804 - oy, { target: 104 });
    })
  ]);

// ---------------- CHART 2: residuals ----------------
const box2 = { x: 0, y: 930, w: 1488, h: 565 }, area2 = { L: 163, T: 953, R: 1422, B: 1403 };
make('c2', box2, area2,
  { min: 61219, max: 61251, ticks: MJD_TICKS },
  { min: -1.8, max: 3.3, ticks: RES_TICKS, pad: 27, fmt: v => v.toFixed(1) },
  [ { label: 'residuals', data: rows2pts(RESID), pointStyle: 'crossRot', pointRadius: 3.6, pointBorderColor: '#000', pointBorderWidth: 1, borderColor: '#000' } ],
  [ makeFrame({ xMajor: MJD_TICKS, xMinor: MJD_MINOR, yLeft: RES_TICKS, yRight: RES_TICKS }),
    textPlugin('t2', (c, ctx) => {
      const ox = box2.x, oy = box2.y;
      drawRich(ctx, [{ t: 'residuals (ns)', size: 27 }], 52 - ox, 1178 - oy, { rot: -Math.PI / 2, align: 'center', target: 192, base: 10 });
      drawRich(ctx, [{ t: 'Modified Julian Date', size: 27 }], 792.5 - ox, 1482 - oy, { align: 'center', target: 287 });
      drawRich(ctx, [{ t: 'Max Smoothing Residual: _-1.295__2.807__0.721  Sigma= 0.608ns', size: 22 }], 201 - ox, 1382 - oy, { target: 781 });
    })
  ]);

// ---------------- CHART 3: MDEV ----------------
const box3 = { x: 0, y: 1495, w: 780, h: 610 }, area3 = { L: 169, T: 1511, R: 709, B: 1961 };
function labelText(c, ctx, xs, ys, labs, size, dy){
  const X = c.scales.x, Y = c.scales.y, a = c.chartArea;
  ctx.font = 'bold ' + size + 'px ' + FONT; ctx.fillStyle = RED; ctx.textBaseline = 'alphabetic'; ctx.textAlign = 'left';
  labs.forEach((s, i) => {
    const w = ctx.measureText(s).width;
    let px = X.getPixelForValue(xs[i]) - w / 2;
    if (px < a.left + 1) px = a.left + 1;
    const py = (typeof ys === 'number' ? Y.getPixelForValue(ys) : Y.getPixelForValue(ys[i])) + dy;
    ctx.fillText(s, px, py);
  });
}
make('c3', box3, area3,
  { min: 3, max: 6, ticks: TAU_TICKS },
  { min: -16.5, max: -10.5, ticks: MDEV_TICKS, pad: 28 },
  [
    { label: 'MDEV', data: LOG_TAU.map((x, i) => ({ x, y: MDEV[i] })), pointStyle: 'circle', pointRadius: 6, pointBackgroundColor: '#000', pointBorderWidth: 0 },
    { label: 'marks', data: MARK_LOGTAU.map(x => ({ x, y: MARK_MDEV_Y })), clip: 0, pointStyle: 'circle', pointRadius: 4, pointBackgroundColor: '#000', pointBorderWidth: 0 }
  ],
  [ makeFrame({ xMajor: TAU_TICKS, xMinor: TAU_MINOR, yLeft: MDEV_TICKS, yLeftMinor: MDEV_MINOR, yRight: MDEV_TICKS.concat(MDEV_MINOR) }),
    textPlugin('t3', (c, ctx) => {
      const ox = box3.x, oy = box3.y;
      drawRich(ctx, [{ t: 'Modified Allan Deviation (10', size: 27 }, { t: '-15', size: 18, dy: -11 }, { t: ')', size: 27 }], 75 - ox, 1736 - oy, { rot: -Math.PI / 2, align: 'center', target: 438, base: 10 });
      drawRich(ctx, [{ t: 'Averaging time, log(', size: 27 }, { t: '\u03c4', size: 29, serif: true, bold: false }, { t: ') (s)', size: 27 }], 438.6 - ox, 2039 - oy, { align: 'center', target: 352 });
      drawRich(ctx, [{ t: '\u03c4', size: 17, serif: true, bold: false }, { t: ' = 1054s', size: 15 }], 214 - ox, 1538 - oy, { target: 76 });
      labelText(c, ctx, LOG_TAU, MDEV, MDEV_LABELS, 21, -8);
      labelText(c, ctx, MARK_LOGTAU, MARK_MDEV_Y, MARK_NAMES, 19, -6);
    })
  ]);

// ---------------- CHART 4: TDEV ----------------
const box4 = { x: 720, y: 1495, w: 768, h: 610 }, area4 = { L: 853, T: 1511, R: 1393, B: 1961 };
make('c4', box4, area4,
  { min: 2.75, max: 6, ticks: TAU_TICKS },
  { min: -10, max: -8.5, ticks: TDEV_TICKS, pad: 24 },
  [
    { label: 'TDEV', data: LOG_TAU.map((x, i) => ({ x, y: TDEV[i] })), pointStyle: 'circle', pointRadius: 6, pointBackgroundColor: '#000', pointBorderWidth: 0 },
    { label: 'marks', data: MARK_LOGTAU.map(x => ({ x, y: MARK_TDEV_Y })), pointStyle: 'circle', pointRadius: 6, pointBackgroundColor: '#000', pointBorderWidth: 0 }
  ],
  [ makeFrame({ xMajor: TAU_TICKS, xMinor: TAU_MINOR, yLeft: TDEV_TICKS, yRight: TDEV_TICKS.concat(TDEV_MINOR) }),
    textPlugin('t4', (c, ctx) => {
      const ox = box4.x, oy = box4.y;
      drawRich(ctx, [{ t: 'Time deviation (10', size: 27 }, { t: '-10', size: 18, dy: -11 }, { t: ' s)', size: 27 }], 759 - ox, 1735 - oy, { rot: -Math.PI / 2, align: 'center', target: 326, base: 10 });
      drawRich(ctx, [{ t: 'Averaging time, log(', size: 27 }, { t: '\u03c4', size: 29, serif: true, bold: false }, { t: ') (s)', size: 27 }], 1123 - ox, 2039 - oy, { align: 'center', target: 354 });
      labelText(c, ctx, LOG_TAU, TDEV, TDEV_LABELS, 18, -28);
      labelText(c, ctx, MARK_LOGTAU, MARK_TDEV_Y, MARK_NAMES, 19, -27);
    })
  ]);
</script>
</body></html>
